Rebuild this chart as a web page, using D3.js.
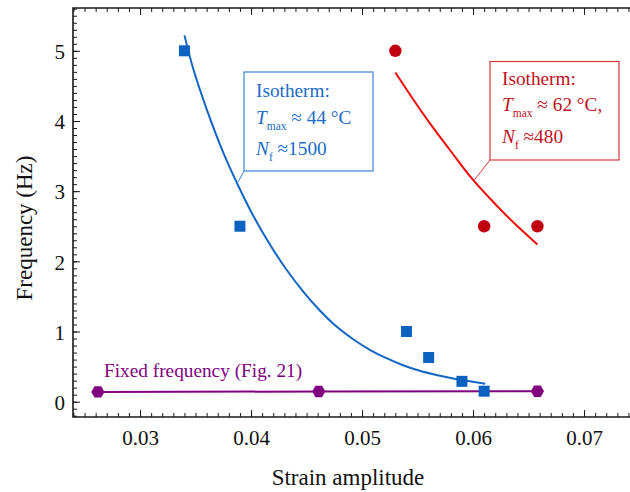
<!DOCTYPE html>
<html><head><meta charset="utf-8">
<script src="https://cdn.jsdelivr.net/npm/d3@7"></script>
<style>
html,body{margin:0;padding:0;background:#fff;}
svg{display:block;font-family:"Liberation Serif","Times New Roman",serif;}
</style></head>
<body>
<svg id="chart" width="630" height="492"></svg>
<script>
// ---- data ----
const isoLowX = [0.034, 0.039, 0.054, 0.056, 0.059, 0.061];
const isoLowY = [5.0, 2.5, 1.0, 0.63, 0.29, 0.15];
const isoHighX = [0.053, 0.061, 0.0658];
const isoHighY = [5.0, 2.5, 2.5];
const fixedX = [0.0262, 0.0461, 0.0658];
const fixedY = [0.14, 0.145, 0.15];
// fitted isotherm curves
const lowFitX = [0.0340, 0.0348, 0.0360, 0.0375, 0.0389, 0.0402, 0.0417, 0.0432, 0.0447, 0.0462, 0.0477, 0.0492, 0.0507, 0.0522, 0.0537, 0.0552, 0.0567, 0.0582, 0.0597, 0.0611];
const lowFitY = [5.22, 4.74, 4.17, 3.55, 3.06, 2.65, 2.24, 1.88, 1.57, 1.30, 1.07, 0.89, 0.74, 0.62, 0.52, 0.44, 0.38, 0.33, 0.29, 0.255];
const highFitX = [0.0530, 0.0546, 0.0561, 0.0579, 0.0600, 0.0621, 0.0636, 0.0658];
const highFitY = [4.69, 4.31, 3.97, 3.59, 3.16, 2.80, 2.56, 2.24];
// ticks
const xTickValues = [0.03, 0.04, 0.05, 0.06, 0.07];
const xTickLabels = ["0.03", "0.04", "0.05", "0.06", "0.07"];
const yTickValues = [0, 1, 2, 3, 4, 5];
const yTickLabels = ["0", "1", "2", "3", "4", "5"];
const xTitle = "Strain amplitude";
const yTitle = "Frequency (Hz)";
const fixedLabel = "Fixed frequency (Fig. 21)";

// ---- layout ----
const svg = d3.select("#chart");
const L = 73, R = 630, T = 8, B = 417;
const x = d3.scaleLinear().domain([0.02396, 0.07414]).range([L, R]);
const y = d3.scaleLinear().domain([-0.218, 5.61]).range([B, T]);

const xMinor = d3.range(24, 75).map(v => v / 1000);
const yMinor = d3.range(-2, 57).map(v => v / 10);
const axisColor = "#1a1a1a";

function styleAxis(g) {
  g.selectAll("line").attr("stroke", axisColor).attr("stroke-width", 1);
  g.selectAll("path.domain").remove();
}
// bottom
svg.append("g").attr("transform", `translate(0,${B})`)
  .call(d3.axisBottom(x).tickValues(xMinor).tickSize(-4).tickFormat(""))
  .call(styleAxis);
const gx = svg.append("g").attr("transform", `translate(0,${B})`)
  .call(d3.axisBottom(x).tickValues(xTickValues).tickSize(-7).tickPadding(13)
    .tickFormat((d, i) => xTickLabels[i]))
  .call(styleAxis);
gx.selectAll("text").attr("font-size", 21).attr("fill", "#111")
  .attr("font-family", "Liberation Serif");
// top
svg.append("g").attr("transform", `translate(0,${T})`)
  .call(d3.axisTop(x).tickValues(xMinor).tickSize(-4).tickFormat("")).call(styleAxis);
svg.append("g").attr("transform", `translate(0,${T})`)
  .call(d3.axisTop(x).tickValues(xTickValues).tickSize(-7).tickFormat("")).call(styleAxis);
// left
svg.append("g").attr("transform", `translate(${L},0)`)
  .call(d3.axisLeft(y).tickValues(yMinor).tickSize(-4).tickFormat("")).call(styleAxis);
const gy = svg.append("g").attr("transform", `translate(${L},0)`)
  .call(d3.axisLeft(y).tickValues(yTickValues).tickSize(-7).tickPadding(8)
    .tickFormat((d, i) => yTickLabels[i]))
  .call(styleAxis);
gy.selectAll("text").attr("font-size", 21).attr("fill", "#111")
  .attr("font-family", "Liberation Serif").attr("dy", "0.37em");

// frame lines
svg.append("path").attr("d", `M${R},${T}H${L}V${B}H${R}`)
  .attr("fill", "none").attr("stroke", axisColor).attr("stroke-width", 1.6);

// titles
svg.append("text").attr("x", 348).attr("y", 485).attr("text-anchor", "middle")
  .attr("font-size", 23).attr("fill", "#111").text(xTitle);
svg.append("text").attr("transform", "translate(32,228) rotate(-90)")
  .attr("text-anchor", "middle").attr("font-size", 23).attr("fill", "#111").text(yTitle);

const line = d3.line().x(d => x(d[0])).y(d => y(d[1]));
const smooth = d3.line().x(d => x(d[0])).y(d => y(d[1])).curve(d3.curveCatmullRom);

// fixed frequency
const purple = "#800080";
svg.append("path").datum(fixedX.map((v, i) => [v, fixedY[i]]))
  .attr("d", line).attr("fill", "none").attr("stroke", purple).attr("stroke-width", 2);
const hex = d3.range(6).map(k => {
  const a = k * Math.PI / 3;
  return [6.6 * Math.cos(a), 6.6 * Math.sin(a)];
});
svg.selectAll(".hex").data(fixedX.map((v, i) => [v, fixedY[i]])).enter()
  .append("polygon").attr("points", hex.map(p => p.join(",")).join(" "))
  .attr("transform", d => `translate(${x(d[0])},${y(d[1])})`).attr("fill", purple);
svg.append("text").attr("x", 104).attr("y", 376.5).attr("font-size", 19.3)
  .attr("fill", purple).text(fixedLabel);

// low-temperature isotherm (blue)
const blue = "#0b62c0";
svg.append("path").datum(lowFitX.map((v, i) => [v, lowFitY[i]]))
  .attr("d", smooth).attr("fill", "none").attr("stroke", "#1466c4").attr("stroke-width", 2);
svg.selectAll(".sq").data(isoLowX.map((v, i) => [v, isoLowY[i]])).enter()
  .append("rect").attr("x", d => x(d[0]) - 5.5).attr("y", d => y(d[1]) - 5.5)
  .attr("width", 11).attr("height", 11).attr("fill", blue);

// high-temperature isotherm (red)
svg.append("path").datum(highFitX.map((v, i) => [v, highFitY[i]]))
  .attr("d", smooth).attr("fill", "none").attr("stroke", "#f00a0a").attr("stroke-width", 2);
svg.selectAll(".ci").data(isoHighX.map((v, i) => [v, isoHighY[i]])).enter()
  .append("circle").attr("cx", d => x(d[0])).attr("cy", d => y(d[1])).attr("r", 6.2)
  .attr("fill", "#c00010");

// annotation boxes
function annot(bx, by, bw, bh, lx, ly, stroke, color, lines) {
  const g = svg.append("g");
  g.append("line").attr("x1", bx).attr("y1", by + bh).attr("x2", lx).attr("y2", ly)
    .attr("stroke", stroke).attr("stroke-width", 1);
  g.append("rect").attr("x", bx).attr("y", by).attr("width", bw).attr("height", bh)
    .attr("fill", "#fff").attr("stroke", stroke).attr("stroke-width", 1.2);
  lines.forEach(l => {
    const t = g.append("text").attr("x", bx + 12).attr("y", l.y).attr("font-size", 19.3).attr("fill", color);
    l.parts.forEach(p => {
      const s = t.append("tspan").text(p.t);
      if (p.it) s.attr("font-style", "italic");
      if (p.sub) s.attr("font-size", 11.5).attr("dy", p.sub);
      if (p.dy) s.attr("dy", p.dy);
    });
  });
}
annot(244, 72, 129, 99, 238, 182, "#3b84cf", "#1a6cc6", [
  { y: 97, parts: [{ t: "Isotherm:" }] },
  { y: 123.5, parts: [{ t: "T", it: true }, { t: "max", sub: 6 }, { t: " \u2248 44 \u00b0C", dy: -6 }] },
  { y: 155, parts: [{ t: "N", it: true }, { t: "f", sub: 6 }, { t: " \u22481500", dy: -6 }] }
]);
annot(490, 61.5, 129, 98.5, 473.5, 181, "#d43a3a", "#c0101c", [
  { y: 84.5, parts: [{ t: "Isotherm:" }] },
  { y: 110.5, parts: [{ t: "T", it: true }, { t: "max", sub: 6 }, { t: " \u2248 62 \u00b0C,", dy: -6 }] },
  { y: 142.5, parts: [{ t: "N", it: true }, { t: "f", sub: 6 }, { t: " \u2248480", dy: -6 }] }
]);
</script>
</body></html>
